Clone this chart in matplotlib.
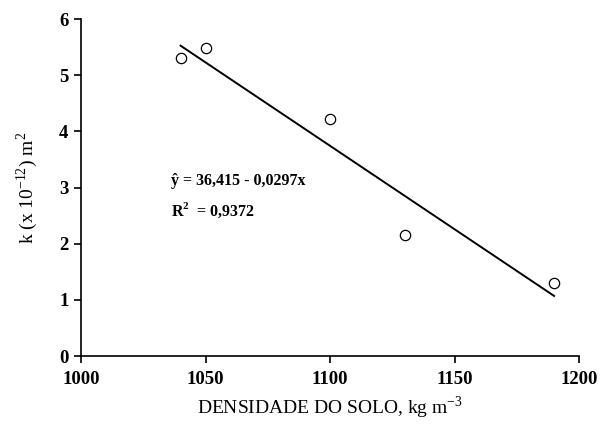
import matplotlib.pyplot as plt
import numpy as np

# dados
densidade = [1040, 1050, 1100, 1130, 1190]
k_perm = [5.30, 5.48, 4.22, 2.15, 1.30]
a, b = 36.415, -0.0297

plt.rcParams['font.family'] = ['Liberation Serif', 'DejaVu Serif']
plt.rcParams['mathtext.fontset'] = 'custom'
plt.rcParams['mathtext.rm'] = 'Liberation Serif'
plt.rcParams['axes.unicode_minus'] = False

fig = plt.figure(figsize=(6, 4.25), dpi=100)
ax = fig.add_axes([0.135, 0.162, 0.83, 0.793])

ax.scatter(densidade, k_perm, s=55, facecolors='white', edgecolors='black', linewidths=0.9, zorder=3)
xr = np.array([min(densidade), max(densidade)])
ax.plot(xr, a + b * xr, color='black', lw=1.4)

ax.set_xlim(1000, 1200)
ax.set_ylim(0, 6)
ax.set_xticks([1000, 1050, 1100, 1150, 1200])
ax.set_yticks(range(7))
for s in ['top', 'right']:
    ax.spines[s].set_visible(False)
for s in ['left', 'bottom']:
    ax.spines[s].set_linewidth(1.2)
ax.tick_params(direction='out', length=5, width=1.2, labelsize=13.5, pad=4)
for lbl in ax.get_xticklabels() + ax.get_yticklabels():
    lbl.set_fontweight('bold')
ax.tick_params(axis='x', pad=6)

ax.set_xlabel(r'DENSIDADE DO SOLO, kg m$^{\mathregular{-3}}$', fontsize=14, labelpad=4)
ax.set_ylabel(r'k (x 10$^{\mathregular{-12}}$) m$^{\mathregular{2}}$', fontsize=14, labelpad=14)

ax.text(1036, 3.05, 'ŷ = 36,415 - 0,0297x', fontsize=11.5, fontweight='bold')
ax.text(1036, 2.5, r'R$^{\mathregular{2}}$  = 0,9372', fontsize=11.5, fontweight='bold')

fig.savefig('out.png', dpi=100)
